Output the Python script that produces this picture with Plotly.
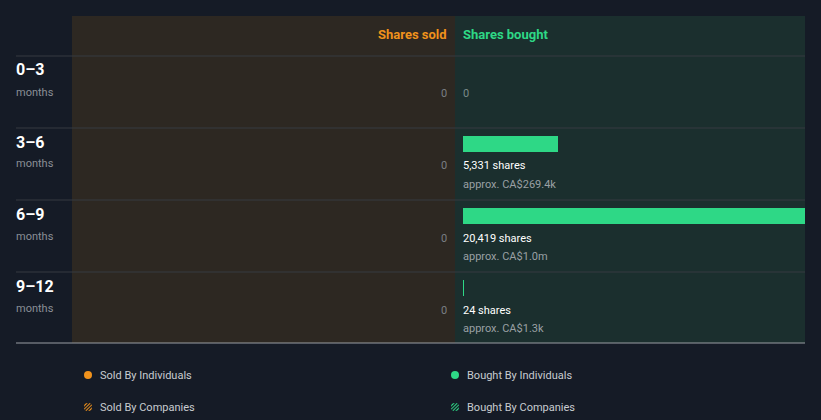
import math
import plotly.graph_objects as go

periods = ["0–3", "3–6", "6–9", "9–12"]
period_unit = "months"
sold_shares = [0, 0, 0, 0]
bought_shares = [0, 5331, 20419, 24]
bought_labels = ["0", "5,331 shares", "20,419 shares", "24 shares"]
bought_values = ["", "approx. CA$269.4k", "approx. CA$1.0m", "approx. CA$1.3k"]
legend_items = ["Sold By Individuals", "Sold By Companies", "Bought By Individuals", "Bought By Companies"]

W, H = 821, 420
BG = "#151b26"
SOLD_BG = "#2d2822"
BOUGHT_BG = "#1b2f2e"
ORANGE = "#f0921c"
GREEN = "#2ed886"
GRID = "#363b40"
FONT = "Roboto"

def px(x):
    return x / W

def py(y):
    return 1 - y / H

row_top, row_h = 56, 72
y_lo = -row_top / row_h
y_hi = (H - row_top) / row_h

fig = go.Figure()

bar_off = 16 / row_h
fig.add_trace(go.Bar(
    orientation="h",
    x=bought_shares,
    y=[i + bar_off for i in range(len(periods))],
    width=16 / row_h,
    marker=dict(color=GREEN, line=dict(width=0)),
    hoverinfo="skip",
    showlegend=False,
))

fig.update_layout(
    width=W, height=H,
    margin=dict(l=0, r=0, t=0, b=0),
    paper_bgcolor=BG, plot_bgcolor="rgba(0,0,0,0)",
    font=dict(family=FONT),
    xaxis=dict(domain=[px(463), px(805)], range=[0, 19200],
               visible=False, fixedrange=True),
    yaxis=dict(domain=[0, 1], range=[y_hi, y_lo], visible=False, fixedrange=True),
    bargap=0,
)

shapes = []
shapes.append(dict(type="rect", xref="paper", yref="paper", x0=px(72), x1=px(455),
                   y0=py(343), y1=py(16), fillcolor=SOLD_BG, line=dict(width=0), layer="below"))
shapes.append(dict(type="rect", xref="paper", yref="paper", x0=px(455), x1=px(805),
                   y0=py(343), y1=py(16), fillcolor=BOUGHT_BG, line=dict(width=0), layer="below"))
for i in range(len(periods)):
    yy = row_top + row_h * i
    shapes.append(dict(type="line", xref="paper", yref="paper", x0=px(16), x1=px(805),
                       y0=py(yy), y1=py(yy), line=dict(color=GRID, width=1), layer="below"))
shapes.append(dict(type="line", xref="paper", yref="paper", x0=px(16), x1=px(805),
                   y0=py(343), y1=py(343), line=dict(color="#9a9ea3", width=1)))

ann = []
ann.append(dict(text="<b>Shares sold</b>", x=px(449), y=py(34), xanchor="right", yanchor="middle",
                font=dict(color=ORANGE, size=13)))
ann.append(dict(text="<b>Shares bought</b>", x=px(461), y=py(34), xanchor="left", yanchor="middle",
                font=dict(color=GREEN, size=13)))

for i, p in enumerate(periods):
    top = row_top + row_h * i
    ann.append(dict(text="<b>%s</b>" % p, x=px(14), y=py(top + 14), xanchor="left", yanchor="middle",
                    font=dict(color="#ffffff", size=16)))
    ann.append(dict(text=period_unit, x=px(14), y=py(top + 36), xanchor="left", yanchor="middle",
                    font=dict(color="#8a8f96", size=11)))
    ann.append(dict(text=str(sold_shares[i]), x=px(449), y=py(top + 38), xanchor="right",
                    yanchor="middle", font=dict(color="#7a7f84", size=11)))
    if bought_shares[i] == 0:
        ann.append(dict(text=bought_labels[i], x=px(461), y=py(top + 38), xanchor="left",
                        yanchor="middle", font=dict(color="#7a8a88", size=11)))
    else:
        ann.append(dict(text=bought_labels[i], x=px(461), y=py(top + 38), xanchor="left",
                        yanchor="middle", font=dict(color="#ffffff", size=11)))
        ann.append(dict(text=bought_values[i], x=px(461), y=py(top + 56), xanchor="left",
                        yanchor="middle", font=dict(color="#9aa0a4", size=11)))

leg_pos = [(88, 375, ORANGE, False), (88, 407, ORANGE, True),
           (455, 375, GREEN, False), (455, 407, GREEN, True)]
for (lx, ly, col, hatched), label in zip(leg_pos, legend_items):
    r = 4
    shapes.append(dict(type="circle", xref="paper", yref="paper", x0=px(lx - r), x1=px(lx + r),
                       y0=py(ly + r), y1=py(ly - r), fillcolor=col, line=dict(width=0)))
    if hatched:
        for c in (-3.2, 0.0, 3.2):
            h = math.sqrt(max(r * r - c * c / 2, 0))
            cx, cy = lx + c / 2, ly + c / 2
            d = h / math.sqrt(2)
            shapes.append(dict(type="line", xref="paper", yref="paper",
                               x0=px(cx - d), x1=px(cx + d),
                               y0=py(cy + d), y1=py(cy - d),
                               line=dict(color=BG, width=1.3)))
    ann.append(dict(text=label, x=px(lx + 10), y=py(ly), xanchor="left", yanchor="middle",
                    font=dict(color="#c8ccd0", size=11)))

for a in ann:
    a.update(xref="paper", yref="paper", showarrow=False)

fig.update_layout(shapes=shapes, annotations=ann)
fig.write_html("out.html")
